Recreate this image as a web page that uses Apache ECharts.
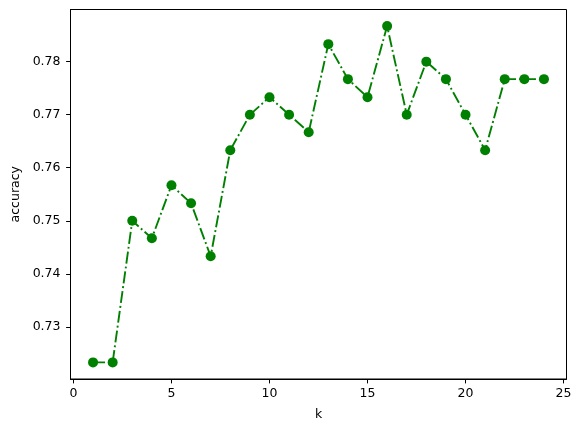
<!DOCTYPE html>
<html>
<head>
<meta charset="utf-8">
<script src="https://cdn.jsdelivr.net/npm/echarts@6/dist/echarts.min.js"></script>
<style>html,body{margin:0;padding:0;background:#fff}#c{width:581px;height:432px}</style>
</head>
<body>
<div id="c"></div>
<script>
const kValues = [1,2,3,4,5,6,7,8,9,10,11,12,13,14,15,16,17,18,19,20,21,22,23,24];
const accuracy = [0.7233,0.7233,0.7500,0.7467,0.7567,0.7533,0.7433,0.7633,0.7700,0.7733,0.7700,0.7667,0.7833,0.7767,0.7733,0.7867,0.7700,0.7800,0.7767,0.7700,0.7633,0.7767,0.7767,0.7767];
const xTicks = [0,5,10,15,20,25];
const yTicks = [0.73,0.74,0.75,0.76,0.77,0.78];

const font = 'DejaVu Sans';
const chart = echarts.init(document.getElementById('c'), null, {renderer:'canvas'});
chart.setOption({
  animation: false,
  grid: {left: 70.5, right: 14.5, top: 9.5, bottom: 53, show: true, borderColor: '#000', borderWidth: 1, backgroundColor: 'transparent'},
  xAxis: {
    type: 'value', min: -0.15, max: 25.15,
    name: 'k', nameLocation: 'middle', nameGap: 29,
    nameTextStyle: {fontFamily: font, fontSize: 12.5, color: '#000'},
    axisLine: {show: true, onZero: false, lineStyle: {color: '#000', width: 1}},
    axisTick: {show: true, length: 4.4, inside: false, customValues: xTicks, lineStyle: {color: '#000'}},
    axisLabel: {customValues: xTicks, margin: 8, fontFamily: font, fontSize: 12.5, color: '#000', formatter: v => String(v)},
    splitLine: {show: false}
  },
  yAxis: {
    type: 'value', min: 0.72017, max: 0.78983,
    name: 'accuracy', nameLocation: 'middle', nameGap: 47,
    nameTextStyle: {fontFamily: font, fontSize: 12.5, color: '#000'},
    axisLine: {show: true, onZero: false, lineStyle: {color: '#000', width: 1}},
    axisTick: {show: true, length: 4.4, inside: false, customValues: yTicks, lineStyle: {color: '#000'}},
    axisLabel: {customValues: yTicks, margin: 10, fontFamily: font, fontSize: 12.5, color: '#000', formatter: v => v.toFixed(2)},
    splitLine: {show: false}
  },
  series: [{
    type: 'line',
    data: kValues.map((k, i) => [k, accuracy[i]]),
    symbol: 'circle', symbolSize: 10,
    itemStyle: {color: '#008000'},
    lineStyle: {color: '#008000', width: 1.9, type: [12, 3, 1.9, 3]},
    z: 3
  }]
});
</script>
</body>
</html>
